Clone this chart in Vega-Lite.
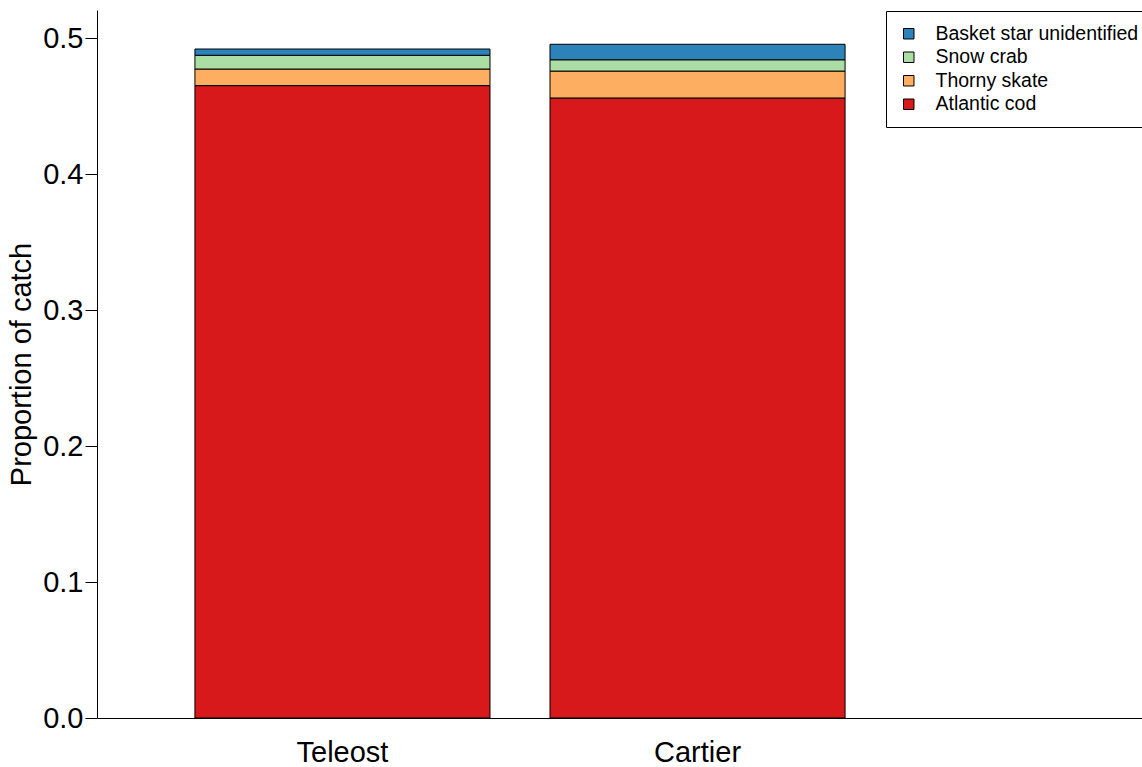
{
  "$schema": "https://vega.github.io/schema/vega-lite/v6.json",
  "width": 1045,
  "height": 708,
  "autosize": {"type": "none"},
  "padding": {"left": 97, "top": 10, "right": 0, "bottom": 49},
  "background": "white",
  "config": {
    "view": {"stroke": null},
    "font": "Liberation Sans",
    "axis": {"grid": false, "domainColor": "black", "tickColor": "black", "labelColor": "black", "titleColor": "black", "labelFont": "Liberation Sans", "titleFont": "Liberation Sans", "titleFontWeight": "normal"}
  },
  "data": {
    "values": [
      {"survey": "Teleost", "species": "Atlantic cod", "stack_rank": 1, "proportion": 0.4650},
      {"survey": "Teleost", "species": "Thorny skate", "stack_rank": 2, "proportion": 0.0122},
      {"survey": "Teleost", "species": "Snow crab", "stack_rank": 3, "proportion": 0.0101},
      {"survey": "Teleost", "species": "Basket star unidentified", "stack_rank": 4, "proportion": 0.0046},
      {"survey": "Cartier", "species": "Atlantic cod", "stack_rank": 1, "proportion": 0.4559},
      {"survey": "Cartier", "species": "Thorny skate", "stack_rank": 2, "proportion": 0.0198},
      {"survey": "Cartier", "species": "Snow crab", "stack_rank": 3, "proportion": 0.0083},
      {"survey": "Cartier", "species": "Basket star unidentified", "stack_rank": 4, "proportion": 0.0114}
    ]
  },
  "mark": {"type": "bar", "stroke": "black", "strokeWidth": 1},
  "encoding": {
    "x": {
      "field": "survey",
      "type": "nominal",
      "sort": ["Teleost", "Cartier"],
      "scale": {"paddingInner": 0.169, "paddingOuter": 0.556, "align": 0.248},
      "axis": {"title": null, "ticks": false, "labelAngle": 0, "labelFontSize": 29, "labelPadding": 20, "domainWidth": 1}
    },
    "y": {
      "field": "proportion",
      "type": "quantitative",
      "stack": "zero",
      "scale": {"domain": [0, 0.5206], "nice": false, "zero": true},
      "axis": {"title": "Proportion of catch", "values": [0, 0.1, 0.2, 0.3, 0.4, 0.5], "format": ".1f", "tickSize": 12, "labelFontSize": 29, "labelPadding": 2, "titleFontSize": 29, "titlePadding": 6, "domainWidth": 1}
    },
    "order": {"field": "stack_rank", "type": "quantitative", "sort": "ascending"},
    "color": {
      "field": "species",
      "type": "nominal",
      "sort": ["Basket star unidentified", "Snow crab", "Thorny skate", "Atlantic cod"],
      "scale": {"domain": ["Basket star unidentified", "Snow crab", "Thorny skate", "Atlantic cod"], "range": ["#2b83ba", "#abdda4", "#fdae61", "#d7191c"]},
      "legend": {
        "title": null,
        "orient": "none",
        "legendX": 789,
        "legendY": 1,
        "symbolType": "square",
        "symbolSize": 110,
        "symbolStrokeColor": "black",
        "symbolStrokeWidth": 1,
        "symbolOpacity": 1,
        "labelFontSize": 19.5,
        "labelFont": "Liberation Sans",
        "labelColor": "black",
        "labelOffset": 17,
        "rowPadding": 2.5,
        "padding": 13,
        "strokeColor": "black",
        "fillColor": "white",
        "labelLimit": 400
      }
    }
  }
}
